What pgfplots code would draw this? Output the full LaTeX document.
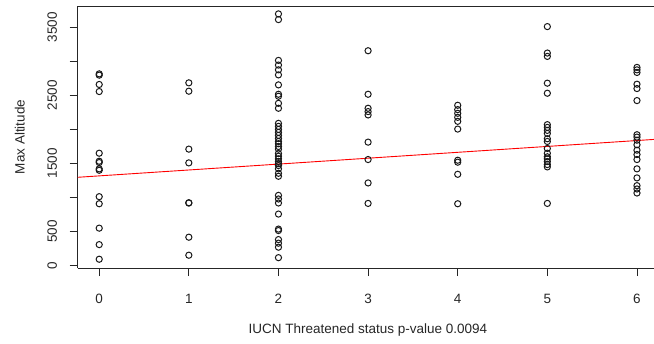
\documentclass[border=0pt]{standalone}
\usepackage{pgfplots}
\pgfplotsset{compat=1.18}
\usepackage{fontspec}
\setmainfont{Liberation Sans}
\begin{document}
\fontsize{13.5bp}{16bp}\selectfont
\begin{tikzpicture}
\begin{axis}[
  scale only axis,
  width=576.3bp, height=262bp,
  xmin=-0.24, xmax=6.19, ymin=-40, ymax=3813,
  axis x line*=box, axis y line*=left,
  axis line style={-, line width=0.8bp, black!85},
  xtick pos=bottom, ytick pos=left,
  tick align=outside,
  major tick length=8bp,
  tick style={line width=0.8bp, black!85},
  xtick={0,1,2,3,4,5,6},
  ytick={0,500,1000,1500,2000,2500,3000,3500},
  yticklabels={0,500,,1500,,2500,,3500},
  /pgf/number format/assume math mode=true,
  ticklabel style={font=\fontsize{13.5bp}{16bp}\selectfont, text=black!85},
  yticklabel style={xshift=-12.7bp, rotate=90, anchor=base},
  xticklabel style={anchor=base, yshift=-27bp},
  xlabel={IUCN Threatened status p-value 0.0094},
  ylabel={Max Altitude},
  xlabel style={at={(axis description cs:0.5,0)}, anchor=base, yshift=-65bp, xshift=2bp, text=black!85},
  ylabel style={at={(axis description cs:-0.092,0.5)}, anchor=base, text=black!85},
  clip=true,
]
\addplot[only marks, mark=o, mark size=3.1bp, mark options={line width=1bp, black!90}] table {
x y
0 2815
0 2796
0 2659
0 2555
0 1648
0 1530
0 1511
0 1418
0 1397
0 1009
0 905
0 546
0 304
0 89
1 2683
1 2560
1 1708
1 1506
1 920
1 915
1 413
1 148
2 3697
2 3613
2 3013
2 2944
2 2874
2 2800
2 2653
2 2515
2 2486
2 2382
2 2309
2 2087
2 2043
2 1998
2 1954
2 1910
2 1865
2 1821
2 1787
2 1747
2 1708
2 1644
2 1604
2 1565
2 1526
2 1496
2 1467
2 1418
2 1353
2 1309
2 1028
2 975
2 916
2 753
2 532
2 511
2 378
2 325
2 266
2 112
3 3155
3 2515
3 2309
3 2260
3 2211
3 1811
3 1555
3 1211
3 910
4 2353
4 2289
4 2235
4 2176
4 2117
4 2003
4 1545
4 1516
4 1338
4 905
5 3510
5 3121
5 3072
5 2678
5 2530
5 2068
5 2028
5 1984
5 1939
5 1861
5 1821
5 1718
5 1648
5 1595
5 1565
5 1526
5 1481
5 1447
5 910
6 2910
6 2874
6 2836
6 2663
6 2599
6 2422
6 1920
6 1885
6 1840
6 1772
6 1693
6 1629
6 1555
6 1418
6 1285
6 1171
6 1122
6 1063
};
\addplot[red, line width=0.9bp] coordinates {(-0.24,1294) (6.19,1851)};
\end{axis}
\pgfresetboundingbox
\path[use as bounding box] ([shift={(-77.7bp,-76bp)}]current axis.south west) rectangle ++(654bp,344bp);
\end{tikzpicture}
\end{document}
